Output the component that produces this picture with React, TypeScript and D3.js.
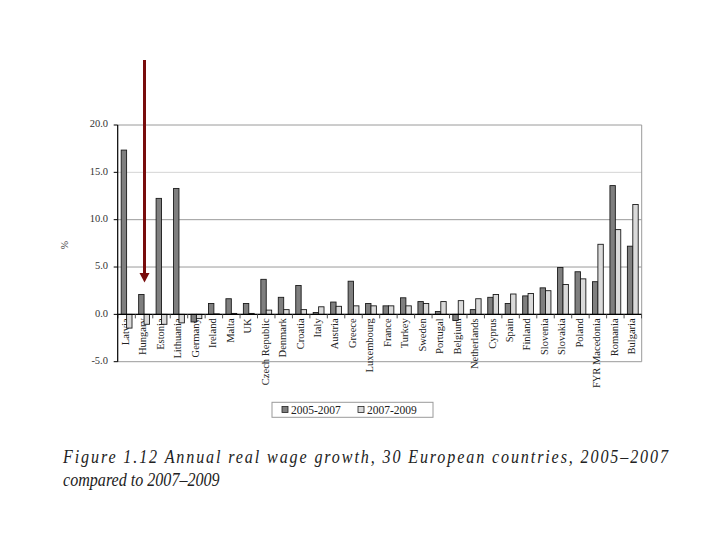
import React from "react";
import { scaleBand, scaleLinear } from "d3";

const countries: string[] = [
  "Latvia", "Hungary", "Estonia", "Lithuania", "Germany", "Ireland", "Malta", "UK",
  "Czech Republic", "Denmark", "Croatia", "Italy", "Austria", "Greece", "Luxembourg",
  "France", "Turkey", "Sweden", "Portugal", "Belgium", "Netherlands", "Cyprus", "Spain",
  "Finland", "Slovenia", "Slovakia", "Poland", "FYR Macedonia", "Romania", "Bulgaria",
];

const growth0507: number[] = [
  17.35, 2.1, 12.25, 13.3, -0.8, 1.15, 1.65, 1.15, 3.7, 1.8, 3.05, 0.2, 1.3, 3.5, 1.15,
  0.9, 1.75, 1.35, 0.3, -0.65, 0.5, 1.8, 1.15, 1.95, 2.8, 4.95, 4.5, 3.45, 13.6, 7.2,
];

const growth0709: number[] = [
  -1.45, -1.05, -1.05, -0.9, -0.45, 0.05, 0.1, 0.1, 0.45, 0.5, 0.5, 0.8, 0.85, 0.9, 0.9,
  0.9, 0.9, 1.15, 1.35, 1.45, 1.65, 2.1, 2.15, 2.2, 2.5, 3.15, 3.75, 7.4, 8.95, 11.6,
];

const seriesNames: string[] = ["2005-2007", "2007-2009"];
const yTicks: number[] = [-5, 0, 5, 10, 15, 20];

const serif = "'Liberation Serif', 'Times New Roman', serif";
const darkFill = "#7f7f7f";
const lightFill = "#dadada";

export default function App(): JSX.Element {
  const left = 117.7;
  const right = 641.7;
  const top = 125;
  const bottom = 361.7;

  const x0 = scaleBand<string>()
    .domain(countries)
    .range([left, right])
    .paddingInner(0.38)
    .paddingOuter(0.2);
  const x1 = scaleBand<string>().domain(seriesNames).range([0, x0.bandwidth()]);
  const y = scaleLinear().domain([-5, 20]).range([bottom, top]);

  const step = x0.step();
  const bw = x0.bandwidth();
  const zeroY = y(0);

  const series = [growth0507, growth0709];
  const fills = [darkFill, lightFill];

  const arrowX = 144.5;
  const squeeze = 0.87;

  return (
    <svg
      width={720}
      height={540}
      style={{ position: "absolute", left: 0, top: 0, background: "#fff" }}
      fontFamily={serif}
    >
      {/* grid lines */}
      {yTicks.map((t) => (
        <line
          key={`g-${t}`}
          x1={left}
          x2={right}
          y1={y(t)}
          y2={y(t)}
          stroke={t === 15 ? "#d4d4d4" : "#9a9a9a"}
          strokeWidth={1}
        />
      ))}
      <line x1={right} x2={right} y1={top} y2={bottom} stroke="#9a9a9a" />

      {/* category labels (drawn under the bars) */}
      {countries.map((c) => (
        <text
          key={`lab-${c}`}
          transform={`translate(${(x0(c) ?? 0) + bw / 2},${zeroY + 4}) rotate(-90)`}
          textAnchor="end"
          dominantBaseline="middle"
          fontSize={10.5}
          fill="#222"
        >
          {c}
        </text>
      ))}

      {/* bars */}
      {countries.map((c, i) =>
        series.map((s, k) => {
          const v = s[i];
          const bx = (x0(c) ?? 0) + (x1(seriesNames[k]) ?? 0);
          return (
            <rect
              key={`${c}-${k}`}
              x={bx}
              y={Math.min(y(v), zeroY)}
              width={x1.bandwidth()}
              height={Math.abs(y(v) - zeroY)}
              fill={fills[k]}
              stroke="#1a1a1a"
              strokeWidth={0.9}
            />
          );
        })
      )}

      {/* zero axis and category ticks */}
      <line x1={left} x2={right} y1={zeroY} y2={zeroY} stroke="#000" strokeWidth={1.2} />
      {[...countries, ""].map((c, i) => {
        const tx = left + step * 0.01 + i * step;
        return (
          <line key={`ct-${i}`} x1={tx} x2={tx} y1={zeroY} y2={zeroY + 4} stroke="#555" />
        );
      })}

      {/* y axis */}
      <line x1={left} x2={left} y1={top} y2={bottom} stroke="#000" strokeWidth={1.2} />
      {yTicks.map((t) => (
        <g key={`yt-${t}`}>
          <line x1={left - 4} x2={left} y1={y(t)} y2={y(t)} stroke="#000" />
          <text
            x={108}
            y={y(t)}
            textAnchor="end"
            dominantBaseline="middle"
            fontSize={10.5}
            fill="#333"
          >
            {t.toFixed(1)}
          </text>
        </g>
      ))}
      <text
        transform={`translate(66,245) rotate(-90)`}
        textAnchor="middle"
        dominantBaseline="middle"
        fontSize={10}
        fill="#333"
      >
        %
      </text>

      {/* legend */}
      <rect x={272} y={402.3} width={161} height={15} fill="#fff" stroke="#9a9a9a" />
      {seriesNames.map((n, k) => (
        <g key={`leg-${n}`} transform={`translate(${k === 0 ? 282 : 358},0)`}>
          <rect x={0} y={406.5} width={6} height={6} fill={fills[k]} stroke="#222" strokeWidth={0.8} />
          <text x={9} y={414} fontSize={11.5} fill="#222">
            {n}
          </text>
        </g>
      ))}

      {/* arrow */}
      <line x1={arrowX} x2={arrowX} y1={60} y2={274} stroke="#780c0c" strokeWidth={3} />
      <polygon
        points={`${arrowX - 5},273 ${arrowX + 5},273 ${arrowX},282.5`}
        fill="#780c0c"
      />

      {/* caption */}
      <g transform={`translate(63,0) scale(${squeeze},1)`}>
        <text
          x={0}
          y={463}
          fontSize={18.5}
          fontStyle="italic"
          fill="#222"
          textLength={605 / squeeze}
          lengthAdjust="spacing"
        >
          Figure 1.12 Annual real wage growth, 30 European countries, 2005–2007
        </text>
        <text x={0} y={486} fontSize={18.5} fontStyle="italic" fill="#222">
          compared to 2007–2009
        </text>
      </g>
    </svg>
  );
}
